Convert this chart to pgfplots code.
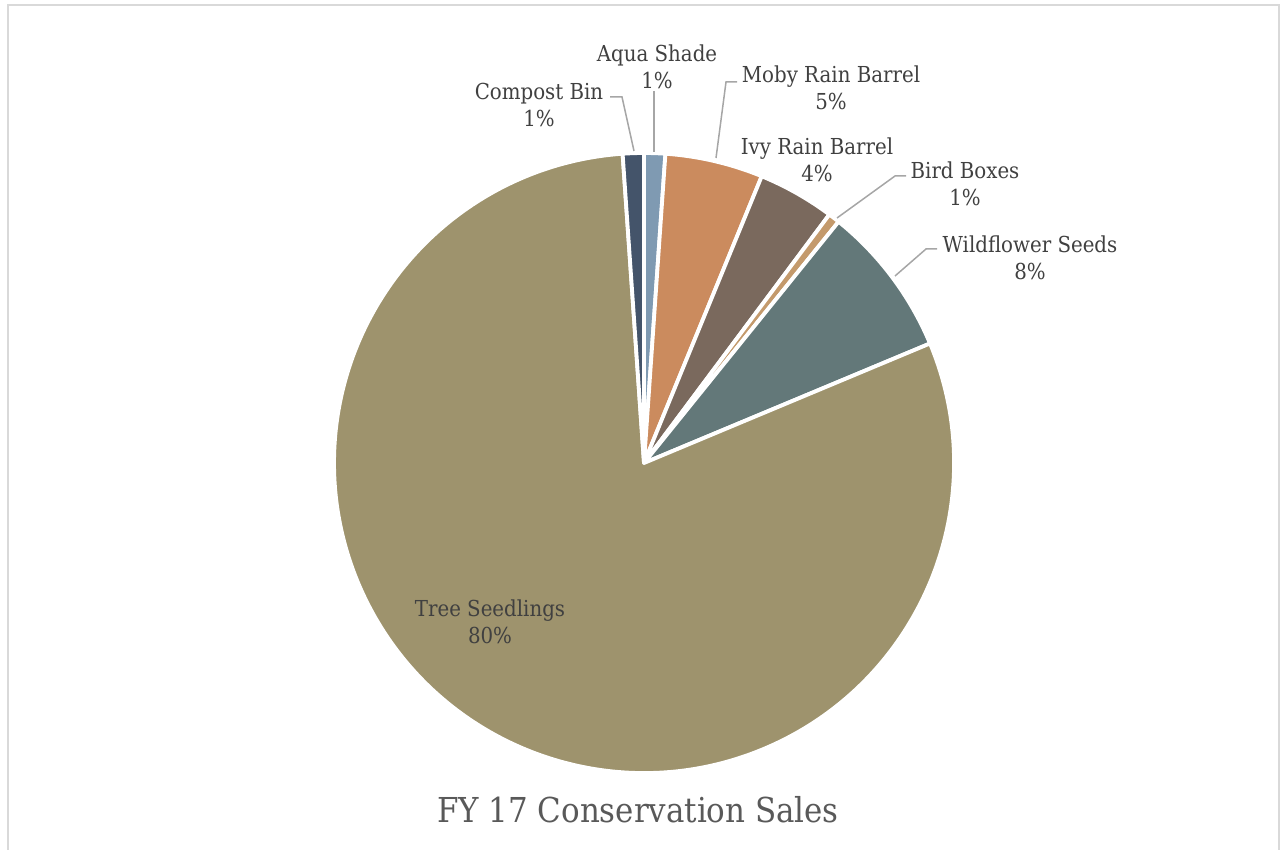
\documentclass[border=0pt]{standalone}
\usepackage{pgfplots}
\pgfplotsset{compat=1.18}
\usepackage{fontspec}
\setmainfont{DejaVu Serif Condensed}
\definecolor{tree}{HTML}{9E936D}
\definecolor{compost}{HTML}{44546A}
\definecolor{aqua}{HTML}{7F9AB2}
\definecolor{moby}{HTML}{CB8B5E}
\definecolor{ivy}{HTML}{7A695D}
\definecolor{bird}{HTML}{C49A6C}
\definecolor{wild}{HTML}{637879}
\definecolor{lbl}{HTML}{404040}
\definecolor{ttl}{HTML}{595959}
\definecolor{lead}{HTML}{A6A6A6}
\definecolor{frame}{HTML}{D9D9D9}
\begin{document}
\begin{tikzpicture}
\begin{axis}[scale only axis, width=768pt, height=510pt,
  xmin=0, xmax=1280, ymin=0, ymax=850, hide axis, clip=false]
% values (percent), clockwise from 12 o'clock:
% Aqua 1.1, Moby 5.1, Ivy 4.0, Bird 0.6, Wild 7.9, Tree 80.2, Compost 1.1
\addplot[draw=none] coordinates {(0,0) (1280,850)};
\draw[frame, line width=1.3pt] (axis cs:8,0) -- (axis cs:8,845) -- (axis cs:1279,845) -- (axis cs:1279,0);
\tikzset{wedge/.style={draw=white, line width=2.3pt, line join=round}}
\fill[aqua, wedge] (axis cs:644,387) -- ++({90-3.6*0}:186pt) arc[start angle={90-3.6*0}, end angle={90-3.6*1.1}, radius=186pt] -- cycle;
\fill[moby, wedge] (axis cs:644,387) -- ++({90-3.6*1.1}:186pt) arc[start angle={90-3.6*1.1}, end angle={90-3.6*6.2}, radius=186pt] -- cycle;
\fill[ivy, wedge] (axis cs:644,387) -- ++({90-3.6*6.2}:186pt) arc[start angle={90-3.6*6.2}, end angle={90-3.6*10.2}, radius=186pt] -- cycle;
\fill[bird, wedge] (axis cs:644,387) -- ++({90-3.6*10.2}:186pt) arc[start angle={90-3.6*10.2}, end angle={90-3.6*10.8}, radius=186pt] -- cycle;
\fill[wild, wedge] (axis cs:644,387) -- ++({90-3.6*10.8}:186pt) arc[start angle={90-3.6*10.8}, end angle={90-3.6*18.7}, radius=186pt] -- cycle;
\fill[tree, wedge] (axis cs:644,387) -- ++({90-3.6*18.7}:186pt) arc[start angle={90-3.6*18.7}, end angle={90-3.6*98.9}, radius=186pt] -- cycle;
\fill[compost, wedge] (axis cs:644,387) -- ++({90-3.6*98.9}:186pt) arc[start angle={90-3.6*98.9}, end angle={90-3.6*100}, radius=186pt] -- cycle;
% leader lines
\draw[lead, line width=0.9pt] (axis cs:610,753) -- (axis cs:622,753) -- (axis cs:634,699);
\draw[lead, line width=0.9pt] (axis cs:654,759) -- (axis cs:654,698);
\draw[lead, line width=0.9pt] (axis cs:737,768) -- (axis cs:726,768) -- (axis cs:716,692);
\draw[lead, line width=0.9pt] (axis cs:906,674) -- (axis cs:895,674) -- (axis cs:837,632);
\draw[lead, line width=0.9pt] (axis cs:937,601) -- (axis cs:926,601) -- (axis cs:895,574);
% labels
\tikzset{lab/.style={text=lbl, align=center, inner sep=0pt, font=\fontsize{13.2}{16.2}\selectfont}}
\node[lab] at (axis cs:539,745.5) {Compost Bin\\1\%};
\node[lab] at (axis cs:657,783.5) {Aqua Shade\\1\%};
\node[lab] at (axis cs:831,762.5) {Moby Rain Barrel\\5\%};
\node[lab] at (axis cs:817,690.5) {Ivy Rain Barrel\\4\%};
\node[lab] at (axis cs:965,666) {Bird Boxes\\1\%};
\node[lab] at (axis cs:1030,592) {Wildflower Seeds\\8\%};
\node[lab] at (axis cs:490,228.5) {Tree Seedlings\\80\%};
\node[text=ttl, inner sep=0pt, font=\fontsize{20.6}{25}\selectfont] at (axis cs:638,40) {FY 17 Conservation Sales};
\end{axis}
\pgfresetboundingbox
\path (current axis.south west) rectangle (current axis.north east);
\end{tikzpicture}
\end{document}
